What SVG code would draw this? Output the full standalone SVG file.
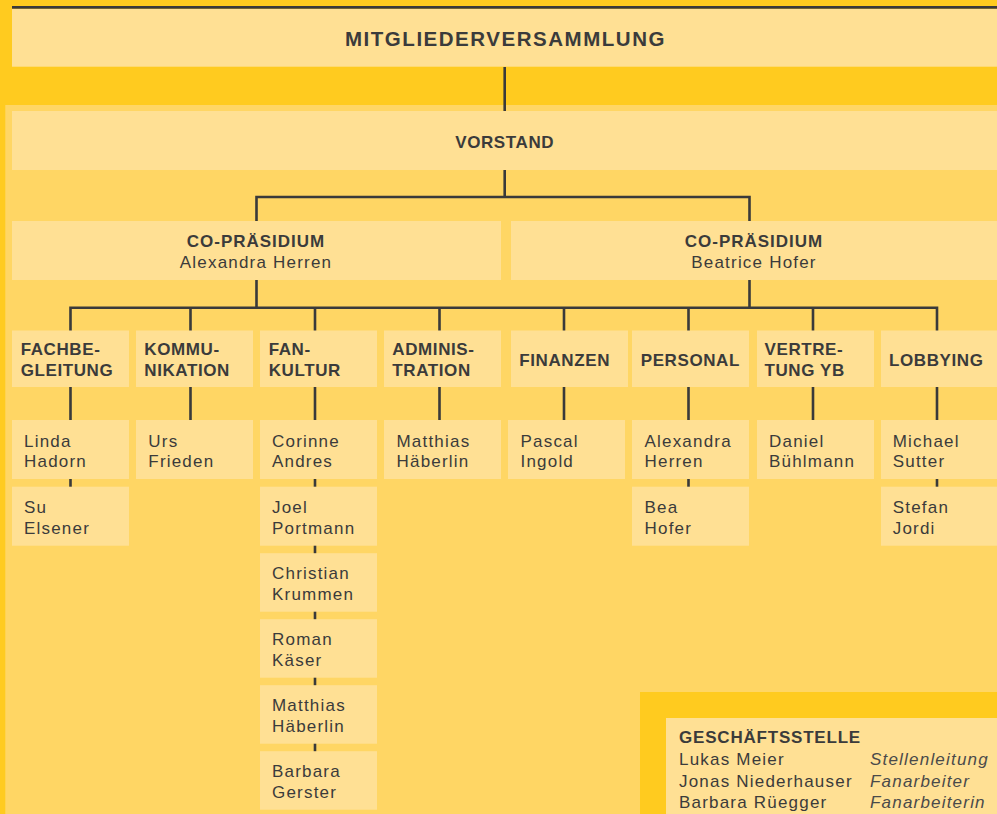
<svg xmlns="http://www.w3.org/2000/svg" width="997" height="814" viewBox="0 0 997 814">
<style>
.bg{fill:#FFCB1F}
.panel{fill:#FFD664}
.box{fill:#FFE094}
.b{font-family:"Liberation Sans",Arial,sans-serif;font-weight:bold;font-size:17px;letter-spacing:0.6px;fill:#3b3b3b}
.r{font-family:"Liberation Sans",Arial,sans-serif;font-size:17px;letter-spacing:1.2px;fill:#3b3b3b}
.i{font-family:"Liberation Sans",Arial,sans-serif;font-style:italic;font-size:17px;letter-spacing:1.2px;fill:#4a4a4a}
.c{text-anchor:middle}
.ln{fill:none;stroke:#3a3a3a;stroke-width:2.6}
</style>
<rect class="bg" x="0" y="0" width="997" height="814"/>
<rect x="12" y="6" width="985" height="2.7" fill="#3a3a3a"/>
<rect class="panel" x="5.3" y="105" width="991.7" height="709"/>
<rect class="bg" x="640" y="692" width="357" height="122"/>

<g id="connectors">
<path class="ln" d="M504.7 67V111M504.7 170V197"/>
<path class="ln" d="M256.5 221V197H749.5V221"/>
<path class="ln" d="M256.5 280V308M749.5 280V308"/>
<path class="ln" d="M70.5 331V307.7H937V331"/>
<path class="ln" d="M190.5 308V331M315 308V331M439.5 308V331M564 308V331M688.5 308V331M813 308V331"/>
<path class="ln" d="M70.5 387V487M190.5 387V420M315 387V752M439.5 387V420M564 387V420M688.5 387V487M813 387V420M937 387V487"/>
</g>

<g id="mitgliederversammlung">
<rect class="box" x="12" y="9" width="985" height="57.7"/>
<text class="b c" x="505" y="46" font-size="20.5" style="font-size:20.5px" textLength="320" lengthAdjust="spacing">MITGLIEDERVERSAMMLUNG</text>
</g>
<g id="vorstand">
<rect class="box" x="12" y="111" width="985" height="59"/>
<text class="b c" x="504.7" y="147.7">VORSTAND</text>
</g>
<g id="copraesidium-1">
<rect class="box" x="12" y="221" width="489" height="59"/>
<text class="b c" x="256" y="246.7" style="letter-spacing:1px">CO-PRÄSIDIUM</text>
<text class="r c" x="256" y="268.3">Alexandra Herren</text>
</g>
<g id="copraesidium-2">
<rect class="box" x="511" y="221" width="486" height="59"/>
<text class="b c" x="754" y="246.7" style="letter-spacing:1px">CO-PRÄSIDIUM</text>
<text class="r c" x="754" y="268.3">Beatrice Hofer</text>
</g>

<g id="fachbegleitung">
<rect class="box" x="12" y="330.5" width="117" height="56.5"/>
<text class="b" x="20.7" y="355">FACHBE-</text>
<text class="b" x="20.7" y="376">GLEITUNG</text>
</g>
<g id="kommunikation">
<rect class="box" x="136" y="330.5" width="117" height="56.5"/>
<text class="b" x="144.3" y="355">KOMMU-</text>
<text class="b" x="144.3" y="376">NIKATION</text>
</g>
<g id="fankultur">
<rect class="box" x="260" y="330.5" width="117" height="56.5"/>
<text class="b" x="268.7" y="355">FAN-</text>
<text class="b" x="268.7" y="376">KULTUR</text>
</g>
<g id="administration">
<rect class="box" x="384" y="330.5" width="117" height="56.5"/>
<text class="b" x="392.3" y="355">ADMINIS-</text>
<text class="b" x="392.3" y="376">TRATION</text>
</g>
<g id="finanzen">
<rect class="box" x="511" y="330.5" width="117" height="56.5"/>
<text class="b" x="519.3" y="365.5">FINANZEN</text>
</g>
<g id="personal">
<rect class="box" x="632" y="330.5" width="117" height="56.5"/>
<text class="b" x="640.7" y="365.5">PERSONAL</text>
</g>
<g id="vertretung-yb">
<rect class="box" x="757" y="330.5" width="117" height="56.5"/>
<text class="b" x="764.5" y="355">VERTRE-</text>
<text class="b" x="764.5" y="376">TUNG YB</text>
</g>
<g id="lobbying">
<rect class="box" x="881" y="330.5" width="116" height="56.5"/>
<text class="b" x="889" y="365.5">LOBBYING</text>
</g>

<g id="linda-hadorn">
<rect class="box" x="12" y="420" width="117" height="59"/>
<text class="r" x="24" y="446.7">Linda</text>
<text class="r" x="24" y="467.3">Hadorn</text>
</g>
<g id="su-elsener">
<rect class="box" x="12" y="486.7" width="117" height="59"/>
<text class="r" x="24" y="513.2">Su</text>
<text class="r" x="24" y="533.9">Elsener</text>
</g>
<g id="urs-frieden">
<rect class="box" x="136" y="420" width="117" height="59"/>
<text class="r" x="148.3" y="446.7">Urs</text>
<text class="r" x="148.3" y="467.3">Frieden</text>
</g>
<g id="corinne-andres">
<rect class="box" x="260" y="420" width="117" height="59"/>
<text class="r" x="272" y="446.7">Corinne</text>
<text class="r" x="272" y="467.3">Andres</text>
</g>
<g id="joel-portmann">
<rect class="box" x="260" y="486.7" width="117" height="59"/>
<text class="r" x="272" y="513.2">Joel</text>
<text class="r" x="272" y="533.9">Portmann</text>
</g>
<g id="christian-krummen">
<rect class="box" x="260" y="553.2" width="117" height="58.5"/>
<text class="r" x="272" y="579.2">Christian</text>
<text class="r" x="272" y="600">Krummen</text>
</g>
<g id="roman-kaeser">
<rect class="box" x="260" y="619.2" width="117" height="58.5"/>
<text class="r" x="272" y="645.2">Roman</text>
<text class="r" x="272" y="666">Käser</text>
</g>
<g id="matthias-haeberlin-fan">
<rect class="box" x="260" y="685.2" width="117" height="58.5"/>
<text class="r" x="272" y="711.2">Matthias</text>
<text class="r" x="272" y="732">Häberlin</text>
</g>
<g id="barbara-gerster">
<rect class="box" x="260" y="751.2" width="117" height="58.5"/>
<text class="r" x="272" y="777.2">Barbara</text>
<text class="r" x="272" y="798">Gerster</text>
</g>
<g id="matthias-haeberlin-admin">
<rect class="box" x="384" y="420" width="117" height="59"/>
<text class="r" x="396.5" y="446.7">Matthias</text>
<text class="r" x="396.5" y="467.3">Häberlin</text>
</g>
<g id="pascal-ingold">
<rect class="box" x="508" y="420" width="117" height="59"/>
<text class="r" x="520.5" y="446.7">Pascal</text>
<text class="r" x="520.5" y="467.3">Ingold</text>
</g>
<g id="alexandra-herren">
<rect class="box" x="632" y="420" width="117" height="59"/>
<text class="r" x="644.5" y="446.7">Alexandra</text>
<text class="r" x="644.5" y="467.3">Herren</text>
</g>
<g id="bea-hofer">
<rect class="box" x="632" y="486.7" width="117" height="59"/>
<text class="r" x="644.5" y="513.2">Bea</text>
<text class="r" x="644.5" y="533.9">Hofer</text>
</g>
<g id="daniel-buehlmann">
<rect class="box" x="757" y="420" width="117" height="59"/>
<text class="r" x="769" y="446.7">Daniel</text>
<text class="r" x="769" y="467.3">Bühlmann</text>
</g>
<g id="michael-sutter">
<rect class="box" x="881" y="420" width="116" height="59"/>
<text class="r" x="892.7" y="446.7">Michael</text>
<text class="r" x="892.7" y="467.3">Sutter</text>
</g>
<g id="stefan-jordi">
<rect class="box" x="881" y="486.7" width="116" height="59"/>
<text class="r" x="892.7" y="513.2">Stefan</text>
<text class="r" x="892.7" y="533.9">Jordi</text>
</g>

<g id="geschaeftsstelle">
<rect class="box" x="666" y="718" width="331" height="96"/>
<text class="b" x="679" y="743.3" style="letter-spacing:0.8px">GESCHÄFTSSTELLE</text>
<text class="r" x="679" y="765">Lukas Meier</text>
<text class="r" x="679" y="786.7">Jonas Niederhauser</text>
<text class="r" x="679" y="808.3">Barbara Rüegger</text>
<text class="i" x="870" y="765">Stellenleitung</text>
<text class="i" x="870" y="786.7">Fanarbeiter</text>
<text class="i" x="870" y="808.3">Fanarbeiterin</text>
</g>
</svg>
